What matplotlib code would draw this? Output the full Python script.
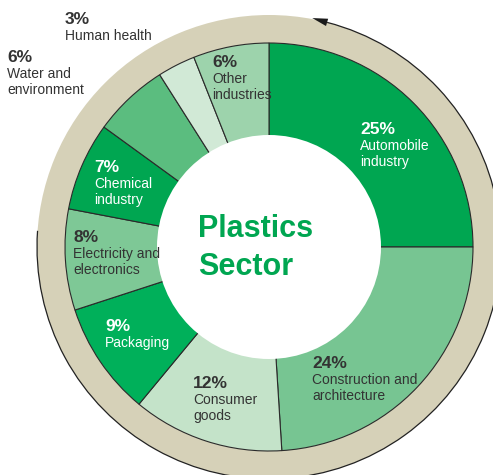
import matplotlib.pyplot as plt
from matplotlib.patches import Wedge, Circle, Arc, Polygon
import numpy as np

plt.rcParams['font.family'] = ['Liberation Sans', 'DejaVu Sans']

# share of plastics use by sector, clockwise from 12 o'clock
sectors = ['Automobile\nindustry', 'Construction and\narchitecture', 'Consumer\ngoods',
           'Packaging', 'Electricity and\nelectronics', 'Chemical\nindustry',
           'Water and\nenvironment', 'Human health', 'Other\nindustries']
shares = [25, 24, 12, 9, 8, 7, 6, 3, 6]
colors = ['#00a651', '#77c592', '#c4e3c9', '#00b05a', '#7ec896', '#00a651',
          '#5bbd7f', '#d1e9d6', '#9dd3ac']
text_white = [True, False, False, True, False, True, False, False, False]
# label anchor (left x, baseline of the % line) in pixel space
label_pos = [(360, 134), (312, 368), (193, 388), (105, 331), (73, 242),
             (94, 172), (7, 62), (65, 24), (212, 67)]

W, H = 493, 475
cx, cy = 269, H - 247
r_out, r_in, r_ring = 204, 112, 232

fig = plt.figure(figsize=(W / 100, H / 100), dpi=100)
ax = fig.add_axes([0, 0, 1, 1])

# beige outer ring
ax.add_patch(Wedge((cx, cy), r_ring, 0, 360, width=r_ring - r_out,
                   facecolor='#d6d1b8', edgecolor='none', zorder=1))
arc_end = 75.5
ax.add_patch(Arc((cx, cy), 2 * r_ring, 2 * r_ring, theta1=176, theta2=arc_end,
                 color='#222222', lw=0.9, zorder=2))
# arrow head at the end of the arc
a0, a1 = np.deg2rad(arc_end), np.deg2rad(79.3)
base = np.array([cx + r_ring * np.cos(a0), cy + r_ring * np.sin(a0)])
tip = np.array([cx + (r_ring + 1) * np.cos(a1), cy + (r_ring + 1) * np.sin(a1)])
d = (tip - base) / np.linalg.norm(tip - base)
n = np.array([-d[1], d[0]])
ax.add_patch(Polygon([tip, base + n * 3.8, base - n * 3.8], closed=True,
                     facecolor='#1a1a1a', edgecolor='none', zorder=3))

ax.pie(shares, colors=colors, startangle=90, counterclock=False,
       radius=r_out, center=(cx, cy),
       wedgeprops=dict(edgecolor='#2a2a2a', linewidth=0.8, zorder=2))
ax.add_patch(Circle((cx, cy), r_in, facecolor='white', edgecolor='none', zorder=4))

ax.text(198, H - 237, 'Plastics', fontsize=22, fontweight='bold',
        color='#00a651', ha='left', va='baseline', zorder=5)
ax.text(198, H - 275, 'Sector', fontsize=22, fontweight='bold',
        color='#00a651', ha='left', va='baseline', zorder=5)

for name, val, white, (x, y) in zip(sectors, shares, text_white, label_pos):
    c = 'white' if white else '#333333'
    ax.text(x, H - y, f'{val}%', fontsize=12.5, fontweight='bold', color=c,
            ha='left', va='baseline', zorder=5)
    for i, line in enumerate(name.split('\n')):
        ax.text(x, H - y - 16 - 16 * i, line, fontsize=10, color=c,
                ha='left', va='baseline', zorder=5)

ax.set_xlim(0, W)
ax.set_ylim(0, H)
ax.set_aspect('equal')
ax.axis('off')
fig.savefig('out.png', dpi=100)
